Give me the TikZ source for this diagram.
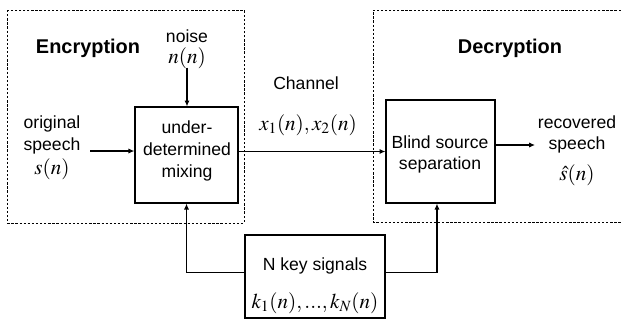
\documentclass[tikz,border=0pt]{standalone}
\usepackage{mathptmx}
\usepackage[no-math]{fontspec}
\setmainfont{Liberation Sans}
\usetikzlibrary{arrows.meta}

\begin{document}
\begin{tikzpicture}[x=0.03cm,y=-0.03cm]

\tikzstyle{blk}=[rectangle,draw,line width=1.1pt]
\tikzstyle{zone}=[draw,dash pattern=on 2pt off 1.5pt,line width=0.8pt]
\tikzstyle{txt}=[anchor=base,inner sep=0pt,font=\fontsize{15}{18}\selectfont]
\tikzstyle{hdr}=[anchor=base,inner sep=0pt,font=\fontsize{17}{20}\selectfont\bfseries]
\tikzstyle{mth}=[anchor=base,inner sep=0pt,font=\fontsize{18}{21}\selectfont]
\tikzstyle{arr}=[-{Latex[length=5pt,width=4.5pt]},line width=1.1pt]

\fill[white] (0,0) rectangle (622,323);
\useasboundingbox (0,0) rectangle (622,323);

% dashed areas
\draw[zone] (7,10) rectangle (244,223);
\draw[zone] (625,10) -| (373,222) -- (625,222);

\node[blk,minimum width=3.09cm,minimum height=2.88cm] (mix) at (186.5,155) {};
\node[blk,minimum width=3.27cm,minimum height=3.09cm] (bss) at (440.5,151.5) {};
\node[blk,minimum width=4.2cm,minimum height=2.49cm]  (key) at (315,276.5) {};

\node[hdr] (enc)   at (88,53)  {Encryption};
\node[hdr] (dec)   at (510,53) {Decryption};

\node[txt] (noise) at (187,42)  {noise};
\node[mth] (nn)    at (187,63)  {$n(n)$};
\node[txt] (orig)  at (52,128)  {original};
\node[txt] (sp1)   at (52,150)  {speech};
\node[mth] (sn)    at (52,174)  {$s(n)$};

\node[txt] (mix1)  at (187,133) {under-};
\node[txt] (mix2)  at (187,155) {determined};
\node[txt] (mix3)  at (187,177) {mixing};

\node[txt] (chan)  at (306,89)  {Channel};
\node[mth] (xx)    at (308,130) {$x_1(n),x_2(n)$};

\node[txt] (bss1)  at (440,148) {Blind source};
\node[txt] (bss2)  at (440,169) {separation};

\node[txt] (rec)   at (577,128) {recovered};
\node[txt] (sp2)   at (577,149) {speech};
\node[mth] (shat)  at (577,180) {$\hat{s}(n)$};

\node[txt] (key1)  at (315,270) {N key signals};
\node[mth] (key2)  at (315,308) {$k_1(n),...,k_N(n)$};

\coordinate (sin)  at (90,151) ;
\coordinate (sout) at (535,145) ;

\draw[arr] (sin) -- (sin -| mix.west);
\draw[arr] (nn.south) ++(0,-1) -- (nn.south |- mix.north);
\draw[arr] (mix.east |- bss.west) -- (bss.west);
\draw[arr] (sout -| bss.east) -- (sout);
\draw[arr] ([yshift=3.5pt]key.west) -| (mix.south);
\draw[arr] ([yshift=3.5pt]key.east) -| ([xshift=-3pt]bss.south);

\end{tikzpicture}
\end{document}
